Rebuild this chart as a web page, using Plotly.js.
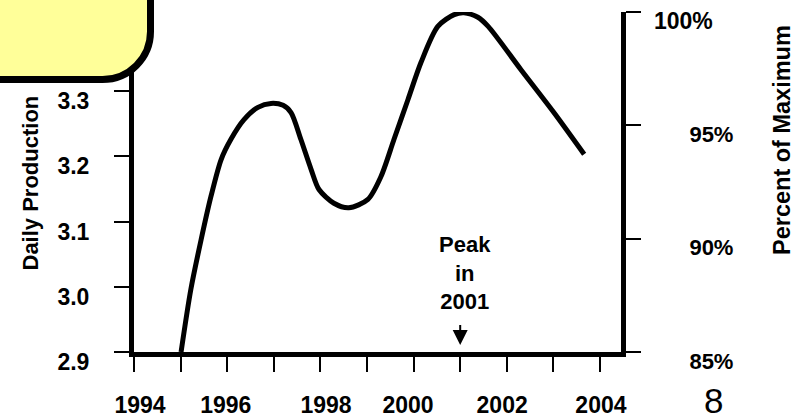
<!DOCTYPE html>
<html>
<head>
<meta charset="utf-8">
<script src="https://cdn.plot.ly/plotly-3.0.1.min.js"></script>
<style>
html,body{margin:0;padding:0;background:#ffffff;}
#chart{width:809px;height:420px;}
</style>
</head>
<body>
<div id="chart"></div>
<script>
// ---- data ----
const years = [1995.01, 1995.22, 1995.44, 1995.65, 1995.87, 1996.08, 1996.36, 1996.66, 1996.94, 1997.20,
               1997.37, 1997.58, 1997.80, 1997.97, 1998.29, 1998.61, 1999.02, 1999.30, 1999.58, 1999.88,
               2000.16, 2000.52, 2000.87, 2001.08, 2001.38, 2001.60, 2002.30, 2003.01, 2003.66];
const production = [2.900, 2.996, 3.072, 3.138, 3.195, 3.226, 3.256, 3.275, 3.281, 3.278,
                    3.267, 3.226, 3.180, 3.149, 3.128, 3.121, 3.134, 3.169, 3.226, 3.287,
                    3.344, 3.399, 3.417, 3.420, 3.413, 3.399, 3.333, 3.267, 3.203];
const yearTicks = [1994, 1995, 1996, 1997, 1998, 1999, 2000, 2001, 2002, 2003, 2004];
const yearLabelPos = [1994.13, 1995.97, 1998.12, 1999.88, 2001.90, 2004.02];
const yearLabels = ['1994', '1996', '1998', '2000', '2002', '2004'];
const prodTicks = [2.9, 3.0, 3.1, 3.2, 3.3];
const prodLabels = ['2.9', '3.0', '3.1', '3.2', '3.3'];
const pctTicks = [85, 90, 95, 100];
const pctLabels = ['85%', '90%', '95%', ''];
const pctTopTick = [100];
const pctTopLabel = ['100%'];
const peakYear = 2001;
const peakText = 'Peak<br>in<br>2001';
const leftTitle = 'Daily Production';
const rightTitle = 'Percent of Maximum';
const pageNumber = '8';

// ---- layout geometry ----
const W = 809, H = 420;
const M = {l: 134, r: 188, t: 12, b: 68};
const PW = W - M.l - M.r, PH = H - M.t - M.b;
const pxPerYear = 46.6;
const xRange = [1994, 1994 + PW / pxPerYear];
const yRange = [2.9, 2.9 + PH / 652.5];
const px2x = px => (px - M.l) / PW;
const py2y = py => (H - M.b - py) / PH;

const FONT = 'Arial, "Liberation Sans", Helvetica, sans-serif';
const boldFont = {family: FONT, size: 22, color: '#000000', weight: 'bold'};
const tickFont = {family: FONT, size: 23, color: '#000000', weight: 'bold'};
const rTitleFont = {family: FONT, size: 23.5, color: '#000000', weight: 'bold'};

// yellow rounded box (border centre line, pixels)
const bx = 150.5, by = 79.5, R = 48, k = 0.5523;
const boxPath = 'M' + px2x(-20) + ',' + py2y(-20) +
  ' L' + px2x(bx) + ',' + py2y(-20) +
  ' L' + px2x(bx) + ',' + py2y(by - R) +
  ' C' + px2x(bx) + ',' + py2y(by - R + k * R) + ' ' + px2x(bx - R + k * R) + ',' + py2y(by) + ' ' + px2x(bx - R) + ',' + py2y(by) +
  ' L' + px2x(-20) + ',' + py2y(by) + ' Z';

const trace = {
  x: years, y: production, type: 'scatter', mode: 'lines',
  line: {color: '#000000', width: 5, shape: 'spline', smoothing: 0.8},
  cliponaxis: false, hoverinfo: 'skip', showlegend: false
};

const layout = {
  width: W, height: H,
  margin: M,
  paper_bgcolor: '#ffffff', plot_bgcolor: '#ffffff',
  showlegend: false,
  font: {family: FONT, color: '#000000'},
  xaxis: {
    range: xRange, tickmode: 'array', tickvals: yearTicks, showticklabels: false,
    ticks: 'outside', ticklen: 15, tickwidth: 2, tickcolor: '#000000',
    showline: true, linewidth: 5, linecolor: '#000000',
    showgrid: false, zeroline: false, fixedrange: true
  },
  xaxis2: {
    overlaying: 'x', anchor: 'y', side: 'bottom',
    range: xRange, tickmode: 'array', tickvals: yearLabelPos, ticktext: yearLabels,
    ticks: '', showline: false, showgrid: false, zeroline: false,
    tickfont: tickFont, ticklabelstandoff: 37, fixedrange: true
  },
  yaxis: {
    range: yRange, tickmode: 'array', tickvals: prodTicks, ticktext: prodLabels,
    ticks: 'outside', ticklen: 15, tickwidth: 2, tickcolor: '#000000',
    showline: true, linewidth: 5, linecolor: '#000000',
    showgrid: false, zeroline: false, tickfont: tickFont,
    ticklabelshift: 10, ticklabelstandoff: 20, fixedrange: true
  },
  yaxis2: {
    overlaying: 'y', side: 'right', anchor: 'x',
    range: [85, 100], tickmode: 'array', tickvals: pctTicks, ticktext: pctLabels,
    ticks: 'outside', ticklen: 15, tickwidth: 2, tickcolor: '#000000',
    showline: true, linewidth: 5, linecolor: '#000000',
    showgrid: false, zeroline: false, tickfont: boldFont,
    ticklabelshift: 9, ticklabelstandoff: 44, fixedrange: true
  },
  yaxis3: {
    overlaying: 'y', side: 'right', anchor: 'x',
    range: [85, 100], tickmode: 'array', tickvals: pctTopTick, ticktext: pctTopLabel,
    ticks: '', showline: false, showgrid: false, zeroline: false, tickfont: tickFont,
    ticklabelshift: 9, ticklabelstandoff: 32, fixedrange: true
  },
  shapes: [{
    type: 'path', xref: 'paper', yref: 'paper', path: boxPath,
    fillcolor: '#FFFF99', line: {color: '#000000', width: 7}, layer: 'above'
  }],
  annotations: [
    {xref: 'x', yref: 'y', x: peakYear, y: 2.9 + (352 - 273) / 652.5, xshift: 5,
     text: peakText, showarrow: false, font: boldFont, align: 'center',
     xanchor: 'center', yanchor: 'middle'},
    {xref: 'x', yref: 'y', x: peakYear, y: 2.9 + (352 - 345) / 652.5,
     text: ' ', font: {size: 1}, showarrow: true, arrowhead: 2, arrowsize: 1.5,
     arrowwidth: 2, arrowcolor: '#000000', ax: 0, ay: -22},
    {xref: 'paper', yref: 'paper', x: px2x(30), y: py2y(183.5), text: leftTitle,
     textangle: -90, showarrow: false, font: boldFont, xanchor: 'center', yanchor: 'middle'},
    {xref: 'paper', yref: 'paper', x: px2x(782), y: py2y(140), text: rightTitle,
     textangle: -90, showarrow: false, font: rTitleFont, xanchor: 'center', yanchor: 'middle'},
    {xref: 'paper', yref: 'paper', x: px2x(713), y: py2y(400), text: pageNumber,
     showarrow: false, font: {family: FONT, size: 35, color: '#000000'},
     xanchor: 'center', yanchor: 'middle'}
  ]
};

const trace2 = {x: [xRange[0]], y: [85], xaxis: 'x2', yaxis: 'y2', type: 'scatter', mode: 'markers',
  marker: {opacity: 0}, hoverinfo: 'skip', showlegend: false};
const trace3 = {x: [xRange[0]], y: [85], xaxis: 'x', yaxis: 'y3', type: 'scatter', mode: 'markers',
  marker: {opacity: 0}, hoverinfo: 'skip', showlegend: false};

Plotly.newPlot('chart', [trace, trace2, trace3], layout, {staticPlot: true, displayModeBar: false});
</script>
</body>
</html>
